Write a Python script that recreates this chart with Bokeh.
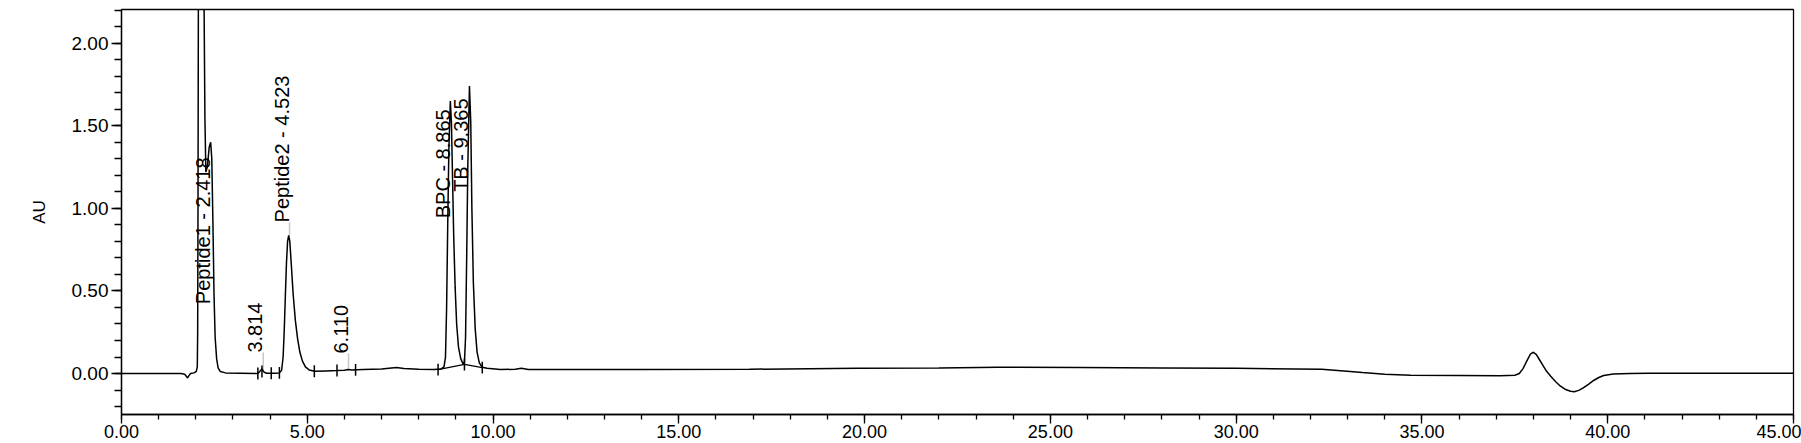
from bokeh.plotting import figure
from bokeh.models import Range1d, FixedTicker, PrintfTickFormatter, ColumnDataSource
from bokeh.core.properties import value
from bokeh.embed import file_html
from bokeh.resources import INLINE

# ---- chromatogram trace (minutes, AU) ----
time_min = [0.00, 1.00, 1.60, 1.70, 1.75, 1.78, 1.81, 1.86, 1.95, 2.01, 2.04, 2.05, 2.06, 2.07,
            2.10, 2.15, 2.19, 2.22, 2.245, 2.27, 2.31, 2.36, 2.40, 2.43, 2.46, 2.49, 2.52, 2.56,
            2.60, 2.66, 2.80, 3.20, 3.60, 3.67, 3.72, 3.78, 3.83, 3.90, 4.10, 4.25, 4.31, 4.35,
            4.38, 4.41, 4.44, 4.47, 4.50, 4.53, 4.57, 4.62, 4.68, 4.74, 4.80, 4.87, 4.95, 5.05,
            5.20, 5.50, 5.80, 6.00, 6.10, 6.20, 6.50, 7.00, 7.40, 7.60, 8.00, 8.40, 8.60, 8.68,
            8.72, 8.75, 8.78, 8.81, 8.85, 8.88, 8.91, 8.94, 8.98, 9.02, 9.07, 9.13, 9.19, 9.23,
            9.26, 9.29, 9.32, 9.365, 9.40, 9.43, 9.47, 9.52, 9.57, 9.63, 9.71, 9.84, 10.20, 10.60,
            10.76, 10.95, 12.00, 14.00, 16.90, 19.80, 22.00, 23.60, 25.80, 28.00, 30.00, 32.30,
            32.90, 33.40, 34.00, 34.70, 36.00, 37.10, 37.50, 37.62, 37.72, 37.82, 37.92, 38.00,
            38.08, 38.16, 38.24, 38.35, 38.46, 38.60, 38.72, 38.85, 39.00, 39.10, 39.22, 39.34,
            39.48, 39.62, 39.76, 39.89, 40.15, 40.60, 41.10, 45.00]
absorbance_au = [0.000, 0.000, 0.000, -0.004, -0.018, -0.027, -0.014, 0.000, 0.004, 0.012, 0.04, 0.25, 1.10, 2.40,
                 3.10, 3.40, 3.00, 2.30, 1.55, 1.22, 1.25, 1.37, 1.40, 1.30, 0.92, 0.48, 0.22, 0.09,
                 0.035, 0.012, 0.004, 0.002, 0.000, 0.000, 0.012, 0.028, 0.010, 0.002, 0.002, 0.004, 0.02, 0.10,
                 0.26, 0.47, 0.67, 0.80, 0.836, 0.80, 0.66, 0.48, 0.32, 0.21, 0.13, 0.075, 0.04, 0.022,
                 0.014, 0.016, 0.018, 0.020, 0.024, 0.021, 0.024, 0.028, 0.036, 0.030, 0.026, 0.024, 0.028, 0.04,
                 0.10, 0.40, 0.90, 1.35, 1.65, 1.52, 1.18, 0.84, 0.52, 0.30, 0.16, 0.09, 0.06, 0.07,
                 0.22, 0.70, 1.25, 1.74, 1.52, 1.00, 0.55, 0.27, 0.13, 0.065, 0.038, 0.032, 0.024, 0.026,
                 0.032, 0.025, 0.024, 0.025, 0.026, 0.032, 0.034, 0.038, 0.036, 0.034, 0.032, 0.026,
                 0.016, 0.006, -0.004, -0.010, -0.012, -0.014, -0.010, 0.000, 0.030, 0.075, 0.118, 0.129,
                 0.115, 0.085, 0.055, 0.015, -0.015, -0.050, -0.075, -0.095, -0.107, -0.110, -0.102, -0.087,
                 -0.065, -0.042, -0.024, -0.012, -0.003, 0.000, 0.002, 0.002]

# ---- peak annotations ----
peak_rt = [2.418, 3.814, 4.523, 6.110, 8.865, 9.365]
peak_text = ["Peptide1 - 2.418", "3.814", "Peptide2 - 4.523", "6.110", "BPC - 8.865", "TB - 9.365"]
label_y = [0.42, 0.127, 0.915, 0.121, 0.94, 1.10]

# leader lines (peak apex -> label start) for labels placed above their peak
leader_rt = [3.814, 4.523, 6.110]
leader_y0 = [0.020, 0.836, 0.020]
leader_y1 = [0.127, 0.915, 0.121]

# integration marks on the baseline
mark_t = [3.67, 3.78, 4.03, 4.25, 5.19, 5.80, 6.30, 8.52, 9.23, 9.71]
mark_y = [0.000, 0.012, 0.002, 0.004, 0.014, 0.018, 0.022, 0.024, 0.055, 0.036]
mark_half = 0.036

# integration baseline drawn under BPC / TB
base_t = [8.52, 9.23, 9.71]
base_y = [0.024, 0.055, 0.036]

# axes
x_major = [0, 5, 10, 15, 20, 25, 30, 35, 40, 45]
x_minor = list(range(0, 46))
y_major = [0.0, 0.5, 1.0, 1.5, 2.0]
y_minor = [round(-0.2 + 0.1 * i, 1) for i in range(25)]

p = figure(width=1801, height=443, output_backend="svg", toolbar_location=None,
           x_range=Range1d(0, 45), y_range=Range1d(-0.248, 2.204),
           min_border_left=121, min_border_right=8, min_border_top=9, min_border_bottom=29,
           background_fill_color="white", border_fill_color="white")
p.grid.visible = False
p.outline_line_color = "black"
p.outline_line_width = 1.3

xa = p.xaxis[0]
xa.ticker = FixedTicker(ticks=x_major, minor_ticks=x_minor)
xa.formatter = PrintfTickFormatter(format="%.2f")
xa.major_tick_out = 9
xa.major_tick_in = 0
xa.minor_tick_out = 5
xa.minor_tick_in = 0
xa.major_label_standoff = 1
xa.major_label_text_font = "Liberation Sans"
xa.major_label_text_font_size = "18px"
xa.major_label_text_color = "black"
xa.axis_line_color = "black"
xa.axis_line_width = 1.3
xa.major_tick_line_color = "black"
xa.minor_tick_line_color = "black"
xa.major_tick_line_width = 1.3
xa.minor_tick_line_width = 1.3

ya = p.yaxis[0]
ya.ticker = FixedTicker(ticks=y_major, minor_ticks=y_minor)
ya.formatter = PrintfTickFormatter(format="%.2f")
ya.major_tick_out = 10
ya.major_tick_in = 0
ya.minor_tick_out = 7
ya.minor_tick_in = 0
ya.major_label_standoff = 3
ya.major_label_text_font = "Liberation Sans"
ya.major_label_text_font_size = "19px"
ya.major_label_text_color = "black"
ya.axis_line_color = "black"
ya.axis_line_width = 1.3
ya.major_tick_line_color = "black"
ya.minor_tick_line_color = "black"
ya.major_tick_line_width = 1.3
ya.minor_tick_line_width = 1.3
ya.axis_label = "AU"
ya.axis_label_text_font = "Liberation Sans"
ya.axis_label_text_font_size = "17px"
ya.axis_label_text_font_style = "normal"
ya.axis_label_text_color = "black"
ya.axis_label_standoff = 20

# leader lines
p.segment(x0=leader_rt, y0=leader_y0, x1=leader_rt, y1=leader_y1,
          line_color="#c8c8c8", line_width=1.5)

# trace
p.line(time_min, absorbance_au, line_color="black", line_width=1.5)

# integration baseline + marks
p.line(base_t, base_y, line_color="black", line_width=1.2)
p.segment(x0=mark_t, y0=[v - mark_half for v in mark_y], x1=mark_t,
          y1=[v + mark_half for v in mark_y], line_color="black", line_width=1.5)

# peak labels
src = ColumnDataSource(dict(x=peak_rt, y=label_y, t=peak_text))
p.text(x="x", y="y", text="t", source=src, angle=1.5708, x_offset=-8,
       text_align="left", text_baseline="alphabetic",
       text_font=value("Liberation Sans"), text_font_size="20px", text_color="black")

open("out.html", "w").write(file_html(p, INLINE))
